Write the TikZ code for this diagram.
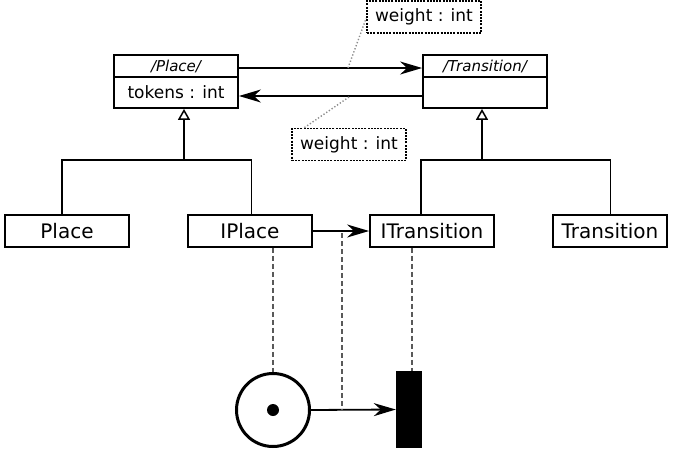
\documentclass[tikz,border=0pt]{standalone}
\usepackage{fontspec}
\setmainfont{DejaVu Sans}
\usetikzlibrary{arrows.meta,calc}

\tikzset{
  umlbox/.style={draw, line width=1.8pt, rectangle, inner sep=0pt, fill=white},
  classbox/.style={umlbox, minimum height=32pt, font=\fontsize{20}{24}\selectfont},
  notebox/.style={draw, dash pattern=on 2pt off 1.2pt, line width=1.5pt, inner sep=0pt,
    minimum width=114pt, minimum height=32pt, font=\fontsize{17}{20}\selectfont},
  assoc/.style={line width=1.8pt, -{Stealth[length=22pt,width=13pt,inset=7pt]}},
  inherit/.style={line width=1.8pt},
  gen/.style={line width=1.8pt, -{Triangle[open,length=11pt,width=12pt,line width=1.5pt]}},
  trace/.style={draw=black!65, line width=1.4pt, dash pattern=on 5pt off 3pt},
  leader/.style={draw=black!45, line width=1.4pt, dash pattern=on 1.3pt off 2pt},
}

\begin{document}
\begin{tikzpicture}[x=1pt,y=-1pt]
\useasboundingbox (0,0) rectangle (673,453);

% abstract classes with an italic header compartment
\node[umlbox, minimum width=124pt, minimum height=53pt] (apl) at (176,81.5) {};
\draw[line width=1.3pt] (114,77) -- (238,77);
\node[font=\fontsize{15}{18}\selectfont\itshape] (aplh) at (176,66) {/Place/};
\node[font=\fontsize{17}{20}\selectfont] (aplb) at (176,92.5) {tokens : int};

\node[umlbox, minimum width=124pt, minimum height=53pt] (atr) at (485,81.5) {};
\draw[line width=1.3pt] (423,77) -- (547,77);
\node[font=\fontsize{15}{18}\selectfont\itshape] (atrh) at (485,66) {/Transition/};

% associations between the abstract classes
\draw[assoc] ([yshift=13.5pt]apl.east) -- ([yshift=13.5pt]atr.west);
\draw[assoc] ([yshift=-14.5pt]atr.west) -- ([yshift=-14.5pt]apl.east);

% weight notes
\node[notebox] (w1) at (424,17) {weight : int};
\node[notebox] (w2) at (349,144.5) {weight : int};
\coordinate (l1) at (348,68);
\coordinate (l2) at (349,97);
\draw[leader] (l1) -- (w1.south west |- 0,18);
\draw[leader] (l2) -- ([xshift=13pt]w2.north west);

% concrete classes
\node[classbox, minimum width=124pt] (place) at (67,231) {Place};
\node[classbox, minimum width=124pt] (iplace) at (250,231) {IPlace};
\node[classbox, minimum width=124pt] (itrans) at (432,231) {ITransition};
\node[classbox, minimum width=114pt] (trans) at (610,231) {Transition};

% generalisation trees
\coordinate (j1) at (184,160);
\coordinate (j2) at (482,160);
\draw[inherit] ([xshift=-5pt]place.north) |- (j1) -| ([xshift=1.5pt]iplace.north);
\draw[gen] (j1) -- (apl.south -| j1);
\draw[inherit] ([xshift=-11pt]itrans.north) |- (j2) -| ([xshift=0.5pt]trans.north);
\draw[gen] (j2) -- (atr.south -| j2);

\draw[assoc] (iplace.east) -- (itrans.west);

% Petri net elements
\node[draw, circle, line width=3pt, minimum size=73pt, inner sep=0pt] (pn) at (273,410) {};
\node[fill, circle, minimum size=12pt, inner sep=0pt] (tok) at (pn.center) {};
\node[fill, rectangle, minimum width=26pt, minimum height=77pt, inner sep=0pt] (tb) at (409,409.5) {};
\draw[assoc] (pn.east) -- (tb.west);

% correspondence traces
\coordinate (m1) at (342,233);
\coordinate (m2) at (342,410);
\draw[trace] (pn.north |- iplace.south) -- (pn.north);
\draw[trace] (m1) -- (m2);
\draw[trace] ([xshift=3pt]tb.north |- itrans.south) -- ([xshift=3pt]tb.north);
\end{tikzpicture}
\end{document}
